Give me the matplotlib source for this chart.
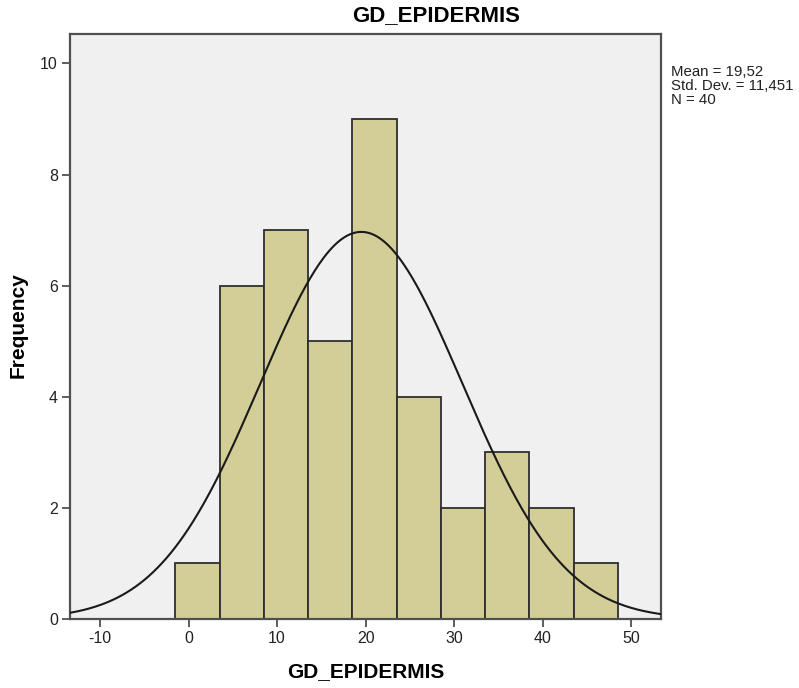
import matplotlib
matplotlib.use('Agg')
import matplotlib.pyplot as plt
import numpy as np

plt.rcParams['font.family'] = ['Liberation Sans', 'DejaVu Sans']
plt.rcParams['axes.unicode_minus'] = False

# histogram data
bin_edges = [-1.5, 3.5, 8.5, 13.5, 18.5, 23.5, 28.5, 33.5, 38.5, 43.5, 48.5]
counts = [1, 6, 7, 5, 9, 4, 2, 3, 2, 1]
mean = 19.52
std = 11.451
n = 40
x_ticks = [-10, 0, 10, 20, 30, 40, 50]
y_ticks = [0, 2, 4, 6, 8, 10]

bar_color = '#d3ce97'
bg_color = '#f0f0f0'
frame_color = '#505050'

fig = plt.figure(figsize=(7.99, 6.88), dpi=100)
ax = fig.add_axes([0.0882, 0.1003, 0.7387, 0.8503])
ax.set_facecolor(bg_color)

widths = np.diff(bin_edges)
ax.bar(bin_edges[:-1], counts, width=widths, align='edge',
       color=bar_color, edgecolor='#2e2e2e', linewidth=1.3, zorder=2)

# curva normal
xlim = (-13.35, 53.35)
xs = np.linspace(xlim[0], xlim[1], 400)
bw = widths[0]
ys = n * bw / (std * np.sqrt(2 * np.pi)) * np.exp(-0.5 * ((xs - mean) / std) ** 2)
ax.plot(xs, ys, color='#1a1a1a', linewidth=1.5, zorder=3)

ax.set_xlim(*xlim)
ax.set_ylim(0, 10.53)
ax.set_xticks(x_ticks)
ax.set_yticks(y_ticks)
ax.tick_params(axis='both', direction='out', length=6, width=1.3,
               color=frame_color, labelsize=11.5, labelcolor='#222222', pad=3)
for s in ax.spines.values():
    s.set_color(frame_color)
    s.set_linewidth(1.6)

ax.set_xlabel('GD_EPIDERMIS', fontsize=15, fontweight='bold', labelpad=11)
fig.text(18.5 / 799, 1 - 325 / 688, 'Frequency', fontsize=15, fontweight='bold',
         rotation=90, ha='center', va='center')

fig.text(436 / 799, 1 - 16 / 688, 'GD_EPIDERMIS', fontsize=16, fontweight='bold',
         ha='center', va='center')

stats = f'Mean = 19,52\nStd. Dev. = 11,451\nN = {n}'
fig.text(671 / 799, 1 - 65 / 688, stats, fontsize=10.8, ha='left', va='top',
         linespacing=1.02, color='#222222')

fig.savefig('out.png', dpi=100)
